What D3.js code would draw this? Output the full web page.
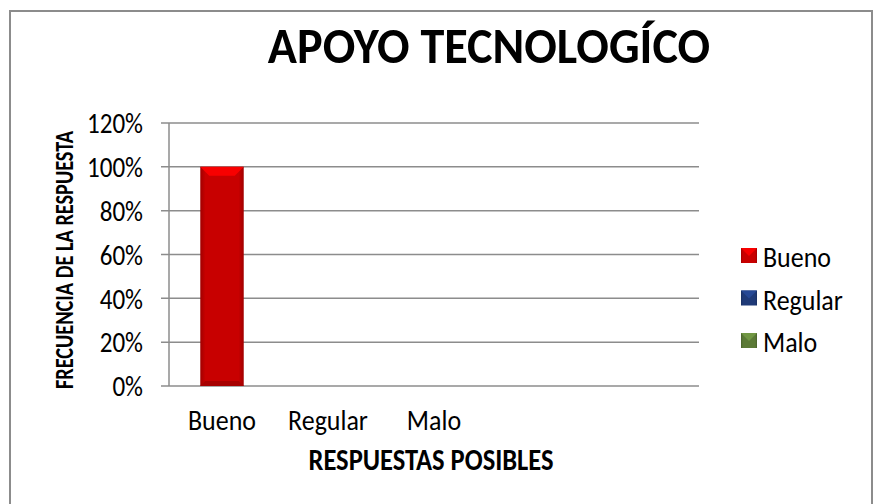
<!DOCTYPE html>
<html>
<head>
<meta charset="utf-8">
<script src="https://cdn.jsdelivr.net/npm/d3@7"></script>
<style>
  body { margin: 0; background: #fff; }
  svg { display: block; font-family: Carlito, Lato, "Open Sans", sans-serif; }
</style>
</head>
<body>
<div id="chart"></div>
<script>
// chart data
const categories = ["Bueno", "Regular", "Malo"];
const slotCount = 5; // Excel left room for two empty categories
const values = [1.0, 0, 0];
const seriesNames = ["Bueno", "Regular", "Malo"];
const seriesColors = ["#c80000", "#1f3a78", "#5b7a36"];
const yTicks = [0, 0.2, 0.4, 0.6, 0.8, 1.0, 1.2];

const width = 877, height = 504;
const margin = { top: 123, right: 178, bottom: 118, left: 169 };
const stretch = 1.14; // the source picture's text is a bit taller than wide

const svg = d3.select("#chart").append("svg")
    .attr("width", width)
    .attr("height", height);

// size a text group so that one sample node reaches the wanted width
function fitFont(sel, sampleNode, targetWidth) {
    sel.attr("font-size", 20);
    const w = sampleNode.getComputedTextLength();
    sel.attr("font-size", 20 * targetWidth / w);
}

// outer chart border
svg.append("rect")
    .attr("x", 10).attr("y", 11)
    .attr("width", 862).attr("height", 500)
    .attr("fill", "#fff")
    .attr("stroke", "#8c8c8c")
    .attr("stroke-width", 2);

const x = d3.scaleBand()
    .domain(d3.range(slotCount))
    .range([margin.left, width - margin.right]);

const y = d3.scaleLinear()
    .domain([0, 1.2])
    .range([height - margin.bottom, margin.top]);

// gridlines
svg.append("g")
    .selectAll("line")
    .data(yTicks)
    .join("line")
    .attr("x1", margin.left - 8)
    .attr("x2", width - margin.right)
    .attr("y1", d => y(d))
    .attr("y2", d => y(d))
    .attr("stroke", "#8c8c8c")
    .attr("stroke-width", 1.5);

// y axis line
svg.append("line")
    .attr("x1", margin.left).attr("x2", margin.left)
    .attr("y1", y(1.2)).attr("y2", y(0))
    .attr("stroke", "#8c8c8c")
    .attr("stroke-width", 1.5);

// y tick labels
const tickLabels = svg.append("g")
    .selectAll("text")
    .data(yTicks)
    .join("text")
    .attr("transform", d => `translate(${margin.left - 26},${y(d)}) scale(1,${stretch})`)
    .attr("dy", "0.36em")
    .attr("text-anchor", "end")
    .attr("fill", "#000")
    .text(d => Math.round(d * 100) + "%");
fitFont(tickLabels, tickLabels.nodes()[yTicks.length - 1], 56);

// bevel gradients for bars and legend keys
const defs = svg.append("defs");
seriesColors.forEach((c, i) => {
    const g = defs.append("linearGradient")
        .attr("id", "grad" + i)
        .attr("x1", "0").attr("x2", "1").attr("y1", "0").attr("y2", "0");
    g.append("stop").attr("offset", "0").attr("stop-color", d3.color(c).darker(0.6));
    g.append("stop").attr("offset", "0.12").attr("stop-color", c);
    g.append("stop").attr("offset", "0.88").attr("stop-color", c);
    g.append("stop").attr("offset", "1").attr("stop-color", d3.color(c).darker(0.6));
});

// bars
const barW = x.bandwidth() * 0.41;
const bars = svg.append("g")
    .selectAll("g")
    .data(values.map((v, i) => ({ v, i })).filter(d => d.v > 0))
    .join("g");

bars.append("rect")
    .attr("x", d => x(d.i) + (x.bandwidth() - barW) / 2)
    .attr("y", d => y(d.v))
    .attr("width", barW)
    .attr("height", d => y(0) - y(d.v))
    .attr("fill", d => `url(#grad${d.i})`);

// top bevel
bars.append("polygon")
    .attr("points", d => {
        const x0 = x(d.i) + (x.bandwidth() - barW) / 2, x1 = x0 + barW, t = y(d.v), b = 9;
        return `${x0},${t} ${x1},${t} ${x1 - b},${t + b} ${x0 + b},${t + b}`;
    })
    .attr("fill", d => d3.color(seriesColors[d.i]).brighter(0.6));

// bottom bevel
bars.append("polygon")
    .attr("points", d => {
        const x0 = x(d.i) + (x.bandwidth() - barW) / 2, x1 = x0 + barW, bt = y(0), b = 5;
        return `${x0},${bt} ${x1},${bt} ${x1 - b},${bt - b} ${x0 + b},${bt - b}`;
    })
    .attr("fill", d => d3.color(seriesColors[d.i]).darker(0.5));

// category labels
const catLabels = svg.append("g")
    .selectAll("text")
    .data(categories)
    .join("text")
    .attr("transform", (d, i) => `translate(${x(i) + x.bandwidth() / 2},${y(0) + 44}) scale(1,${stretch})`)
    .attr("text-anchor", "middle")
    .attr("fill", "#000")
    .text(d => d);
fitFont(catLabels, catLabels.nodes()[0], 68);
const labelSize = catLabels.attr("font-size");

// title
const title = svg.append("text")
    .attr("transform", "translate(489,63) scale(1,1.06)")
    .attr("text-anchor", "middle")
    .attr("font-weight", "bold")
    .attr("fill", "#000")
    .text("APOYO TECNOLOGÍCO");
fitFont(title, title.node(), 442);

// axis titles
const xTitle = svg.append("text")
    .attr("transform", `translate(431,470) scale(1,${stretch})`)
    .attr("text-anchor", "middle")
    .attr("font-weight", "bold")
    .attr("fill", "#000")
    .text("RESPUESTAS POSIBLES");
fitFont(xTitle, xTitle.node(), 245);

const yTitle = svg.append("text")
    .attr("transform", "translate(73,260) rotate(-90) scale(1,1.3)")
    .attr("text-anchor", "middle")
    .attr("font-weight", "bold")
    .attr("fill", "#000")
    .text("FRECUENCIA DE LA RESPUESTA");
fitFont(yTitle, yTitle.node(), 258);

// legend
const legend = svg.append("g")
    .selectAll("g")
    .data(seriesNames)
    .join("g")
    .attr("transform", (d, i) => `translate(741, ${256 + i * 42.5})`);

legend.append("rect")
    .attr("x", 0).attr("y", -8)
    .attr("width", 16).attr("height", 15)
    .attr("fill", (d, i) => `url(#grad${i})`);

legend.append("polygon")
    .attr("points", "0,-8 16,-8 8,0")
    .attr("fill", (d, i) => d3.color(seriesColors[i]).brighter(0.6));

legend.append("text")
    .attr("transform", `translate(22,0) scale(1,${stretch})`)
    .attr("dy", "0.38em")
    .attr("font-size", labelSize)
    .attr("fill", "#000")
    .text(d => d);
</script>
</body>
</html>
